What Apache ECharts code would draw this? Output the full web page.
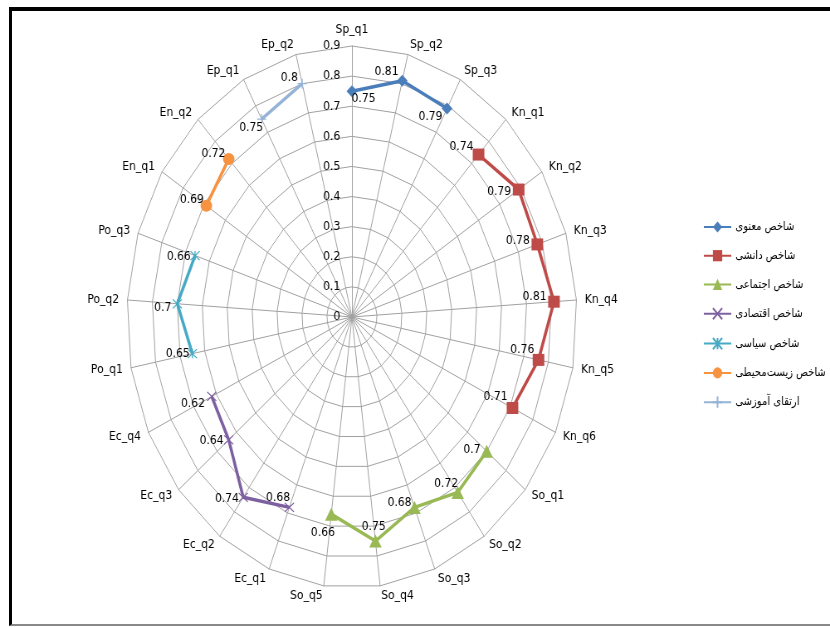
<!DOCTYPE html>
<html>
<head>
<meta charset="utf-8">
<script src="https://cdn.jsdelivr.net/npm/echarts@6/dist/echarts.min.js"></script>
<style>
  html, body { margin: 0; padding: 0; background: #fff; }
  #wrap { position: relative; width: 830px; height: 627px; overflow: hidden; }
  /* the source picture is squeezed sideways, so the whole chart is drawn wider and squeezed back */
  #main { position: absolute; left: 0; top: 0; width: 1000px; height: 627px; transform: scaleX(0.83); transform-origin: 0 0; }
  #frame { position: absolute; left: 9px; top: 7px; right: 0; height: 613px;
           border-top: 4px solid #000; border-left: 3px solid #000; border-bottom: 2px solid #888; }
</style>
</head>
<body>
<div id="wrap">
  <div id="main"></div>
  <div id="frame"></div>
</div>
<script>
const categories = [
  'Sp_q1', 'Sp_q2', 'Sp_q3',
  'Kn_q1', 'Kn_q2', 'Kn_q3', 'Kn_q4', 'Kn_q5', 'Kn_q6',
  'So_q1', 'So_q2', 'So_q3', 'So_q4', 'So_q5',
  'Ec_q1', 'Ec_q2', 'Ec_q3', 'Ec_q4',
  'Po_q1', 'Po_q2', 'Po_q3',
  'En_q1', 'En_q2',
  'Ep_q1', 'Ep_q2'
]
const seriesNames = [
  'شاخص معنوی', 'شاخص دانشی', 'شاخص اجتماعی', 'شاخص اقتصادی',
  'شاخص سیاسی', 'شاخص زیست‌محیطی', 'ارتقای آموزشی'
]
const spiritual = [0.75, 0.81, 0.79]
const knowledge = [0.74, 0.79, 0.78, 0.81, 0.76, 0.71]
const social = [0.7, 0.72, 0.68, 0.75, 0.66]
const economic = [0.68, 0.74, 0.64, 0.62]
const political = [0.65, 0.7, 0.66]
const environment = [0.69, 0.72]
const education = [0.75, 0.8]

const font = 'DejaVu Sans'
const gridColor = '#a0a0a0'

// series look: prefix of its categories, colour, marker
const styles = [
  {prefix: 'Sp_', values: spiritual, color: '#4A7EBB', symbol: 'diamond', size: [13, 12]},
  {prefix: 'Kn_', values: knowledge, color: '#BE4B48', symbol: 'rect', size: [14, 12]},
  {prefix: 'So_', values: social, color: '#98B954', symbol: 'triangle', size: [15, 13]},
  {prefix: 'Ec_', values: economic, color: '#7D60A0', symbol: 'path://M0,0L10,10M10,0L0,10', size: [11, 9], stroke: 1.2},
  {prefix: 'Po_', values: political, color: '#46AAC5', symbol: 'path://M0,0L10,10M10,0L0,10M5,0L5,10', size: [11, 9], stroke: 1.2},
  {prefix: 'En_', values: environment, color: '#F69240', symbol: 'circle', size: [14, 12]},
  {prefix: 'Ep_', values: education, color: '#95B3D7', symbol: 'path://M5,0L5,10M0,5L10,5', size: [11, 10], stroke: 1.2}
]

// where each data label sits next to its point: [position, dx, dy]
const labelNudge = {
  Sp_q1: ['right', -10, 7], Sp_q2: ['left', 5, -9], Sp_q3: ['left', 4, 8],
  Kn_q1: ['left', 4, -8], Kn_q2: ['left', 1, 2], Kn_q3: ['left', 1, -4],
  Kn_q4: ['left', 1, -5], Kn_q5: ['left', 5, -10], Kn_q6: ['left', 4, -11],
  So_q1: ['left', 3, -2], So_q2: ['left', 11, -9], So_q3: ['left', 7, -5],
  So_q4: ['top', -2, 2], So_q5: ['bottom', -10, 2],
  Ec_q1: ['left', 10, -10], Ec_q2: ['left', 4, 1], Ec_q3: ['left', 3, 1], Ec_q4: ['left', 1, 7],
  Po_q1: ['left', 6, 0], Po_q2: ['left', 2, 4], Po_q3: ['left', 4, 1],
  En_q1: ['left', 7, -6], En_q2: ['left', 6, -5],
  Ep_q1: ['left', 11, 9], Ep_q2: ['left', 4, -6]
}

// radar draws counter-clockwise, so keep the first one on top and reverse the rest
const radarOrder = [categories[0]].concat(categories.slice(1).reverse())

const center = [424, 317]
const radius = 271

const option = {
  animation: false,
  radar: {
    center: center,
    radius: radius,
    startAngle: 90,
    shape: 'polygon',
    splitNumber: 9,
    indicator: radarOrder.map(c => ({name: c, min: 0, max: 0.9})),
    axisName: {color: '#000', fontSize: 13, fontFamily: font},
    nameGap: 10,
    splitLine: {lineStyle: {color: gridColor, width: 1}},
    splitArea: {show: false},
    axisLine: {lineStyle: {color: gridColor, width: 1}},
    axisTick: {show: false},
    axisLabel: {show: false}
  },
  polar: {center: center, radius: radius},
  angleAxis: {
    type: 'category',
    data: categories,
    startAngle: 90,
    clockwise: true,
    boundaryGap: false,
    axisLine: {show: false},
    axisTick: {show: false},
    axisLabel: {show: false},
    splitLine: {show: false}
  },
  radiusAxis: {
    min: 0,
    max: 0.9,
    interval: 0.1,
    axisLine: {show: false},
    axisTick: {show: false},
    splitLine: {show: false},
    axisLabel: {color: '#000', fontSize: 13, fontFamily: font, margin: 14}
  },
  legend: {
    orient: 'vertical',
    left: 842,
    top: 216,
    itemWidth: 33,
    itemHeight: 14,
    itemGap: 16.7,
    textStyle: {color: '#000', fontSize: 12, fontFamily: font},
    data: seriesNames
  },
  series: styles.map((s, k) => {
    const cats = categories.filter(c => c.indexOf(s.prefix) === 0)
    return {
      type: 'line',
      name: seriesNames[k],
      coordinateSystem: 'polar',
      data: s.values.map((v, i) => {
        const n = labelNudge[cats[i]]
        return {value: [v, cats[i]], label: {position: n[0], offset: [n[1], n[2]]}}
      }),
      symbol: s.symbol,
      symbolSize: s.size,
      lineStyle: {color: s.color, width: 3.5},
      itemStyle: {color: s.color, borderColor: s.color, borderWidth: s.stroke || 0},
      label: {
        show: true,
        distance: 3,
        color: '#000',
        fontSize: 13,
        fontFamily: font,
        formatter: p => p.value[0]
      },
      emphasis: {disabled: true}
    }
  })
}

const chart = echarts.init(document.getElementById('main'))
chart.setOption(option)
</script>
</body>
</html>
